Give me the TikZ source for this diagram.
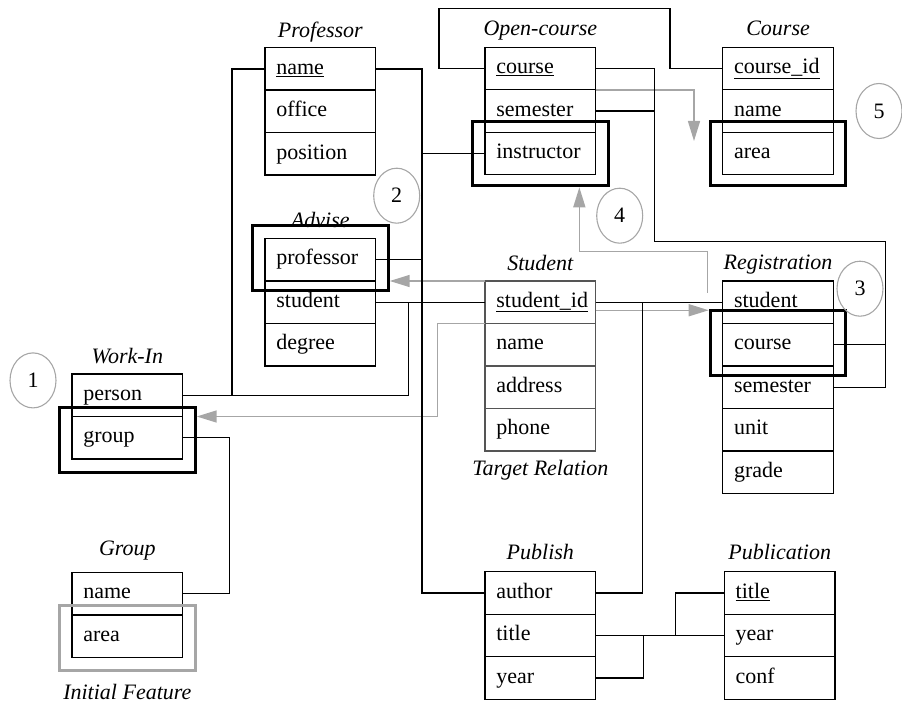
\documentclass[tikz,border=0pt]{standalone}
\usepackage{fontspec}
\setmainfont{Liberation Serif}
\usetikzlibrary{arrows.meta,positioning,shapes.geometric,fit,calc}
\definecolor{hintgray}{HTML}{A6A6A6}
\definecolor{targetgray}{HTML}{555555}

\begin{document}
\begin{tikzpicture}[x=1pt,y=-1pt,
		cell/.style={draw,line width=1.4pt,rectangle,minimum width=110.7pt,minimum height=42.5pt,
				text width=88pt,inner xsep=11pt,inner ysep=0pt,outer sep=0pt,align=left,
				font=\fontsize{22}{26}\selectfont,execute at begin node=\strut},
		target cell/.style={cell,draw=targetgray},
		caption/.style={anchor=base,font=\fontsize{22}{26}\selectfont\itshape,inner sep=0pt},
		hilite/.style={draw,line width=3pt,inner xsep=12.5pt,inner ysep=11pt},
		soft hilite/.style={hilite,draw=hintgray},
		badge/.style={ellipse,draw=hintgray,line width=1.1pt,minimum width=46pt,minimum height=55pt,
				inner sep=0pt,font=\fontsize{22}{26}\selectfont},
		link/.style={draw,line width=1.4pt},
		hint/.style={draw=hintgray,line width=1.5pt,-{Triangle[length=20pt,width=12pt]}},
	]
	\useasboundingbox (0,0) rectangle (902,703);

	% relations
	\node[cell,anchor=north west] (prof-name) at (265,47.7) {\underline{name}};
	\node[cell,below=0pt of prof-name] (prof-office) {office};
	\node[cell,below=0pt of prof-office] (prof-pos) {position};
	\node[caption] (t-prof) at ([yshift=10.5pt]prof-name.north) {Professor};

	\node[cell,anchor=north west] (adv-prof) at (265,238.5) {professor};
	\node[cell,below=0pt of adv-prof] (adv-stud) {student};
	\node[cell,below=0pt of adv-stud] (adv-deg) {degree};
	\node[caption] (t-adv) at ([yshift=11pt]adv-prof.north) {Advise};

	\node[cell,anchor=north west] (wi-person) at (72,374) {person};
	\node[cell,below=0pt of wi-person] (wi-group) {group};
	\node[caption] (t-wi) at ([yshift=10.7pt]wi-person.north) {Work-In};

	\node[cell,anchor=north west] (grp-name) at (72,572.3) {name};
	\node[cell,below=0pt of grp-name] (grp-area) {area};
	\node[caption] (t-grp) at ([yshift=16.6pt]grp-name.north) {Group};
	\node[caption] (t-init) at ([yshift=-41.7pt]grp-area.south) {Initial Feature};

	\node[cell,anchor=north west] (oc-course) at (485,47.3) {\underline{course}};
	\node[cell,below=0pt of oc-course] (oc-sem) {semester};
	\node[cell,below=0pt of oc-sem] (oc-instr) {instructor};
	\node[caption] (t-oc) at ([yshift=11.8pt]oc-course.north) {Open-course};

	\node[cell,anchor=north west] (crs-id) at (722.7,47.3) {\underline{course\_id}};
	\node[cell,below=0pt of crs-id] (crs-name) {name};
	\node[cell,below=0pt of crs-name] (crs-area) {area};
	\node[caption] (t-crs) at ([yshift=11.8pt]crs-id.north) {Course};

	\node[target cell,anchor=north west] (stu-id) at (485,281) {\underline{student\_id}};
	\node[target cell,below=0pt of stu-id] (stu-name) {name};
	\node[target cell,below=0pt of stu-name] (stu-addr) {address};
	\node[target cell,below=0pt of stu-addr] (stu-phone) {phone};
	\node[caption] (t-stu) at ([yshift=10.3pt]stu-id.north) {Student};
	\node[caption] (t-target) at ([yshift=-24pt]stu-phone.south) {Target Relation};

	\node[cell,anchor=north west] (reg-stud) at (722.7,281) {student};
	\node[cell,below=0pt of reg-stud] (reg-course) {course};
	\node[cell,below=0pt of reg-course] (reg-sem) {semester};
	\node[cell,below=0pt of reg-sem] (reg-unit) {unit};
	\node[cell,below=0pt of reg-unit] (reg-grade) {grade};
	\node[caption] (t-reg) at ([yshift=11pt]reg-stud.north) {Registration};

	\node[cell,anchor=north west] (pub-author) at (485,571.7) {author};
	\node[cell,below=0pt of pub-author] (pub-title) {title};
	\node[cell,below=0pt of pub-title] (pub-year) {year};
	\node[caption] (t-pub) at ([yshift=12.7pt]pub-author.north) {Publish};

	\node[cell,anchor=north west] (pcn-title) at (724.3,571.7) {\underline{title}};
	\node[cell,below=0pt of pcn-title] (pcn-year) {year};
	\node[cell,below=0pt of pcn-year] (pcn-conf) {conf};
	\node[caption] (t-pcn) at ([yshift=12.7pt]pcn-title.north) {Publication};

	% marked attributes
	\node[hilite,fit=(adv-prof),yshift=1.5pt] (hl-adv) {};
	\node[hilite,fit=(wi-group),yshift=-2pt] (hl-wi) {};
	\node[hilite,fit=(oc-instr)] (hl-oc) {};
	\node[hilite,fit=(crs-area)] (hl-crs) {};
	\node[hilite,fit=(reg-course),yshift=2pt] (hl-reg) {};
	\node[soft hilite,fit=(grp-area),yshift=-2pt] (hl-grp) {};

	% search steps
	\node[badge] (n1) at (33,380.4) {1};
	\node[badge] (n2) at (396.7,195.7) {2};
	\node[badge] (n3) at (860,288.7) {3};
	\node[badge] (n4) at (619.7,215.7) {4};
	\node[badge] (n5) at (879,111) {5};

	% propagation
	\draw[hint] (stu-id.north west) -- (stu-id.north west -| hl-adv.east);
	\draw[hint] ($(stu-id.east)+(0,8)$) coordinate (stu-out) -- (stu-out -| hl-reg.west);
	\draw[hint] (stu-id.south west) -- ++(-47.7,0) |- (wi-person.south -| hl-wi.east);
	\coordinate (area-tip) at (694,141);
	\draw[hint] (oc-sem.north east) -| (area-tip);
	\coordinate (reg-tail) at ($(reg-stud.west)+(-15.4,-9.5)$);
	\draw[hint] (reg-tail) -- ++(0,-41) -| ([xshift=39pt]hl-oc.south);

	% joins
	\coordinate (prof-bus) at ($(prof-name.east)+(46.3,0)$);
	\draw[link] (prof-name.west) -- ++(-33,0) |- (wi-person.east);
	\draw[link] (prof-name.east) -- (prof-bus) |- (pub-author.west);
	\draw[link] (adv-prof.east) -- (adv-prof.east -| prof-bus);
	\draw[link] (oc-instr.west) -- (oc-instr.west -| prof-bus);
	\draw[link] (adv-stud.east) -- (stu-id.west);
	\draw[link] (adv-stud.east) -- ++(33,0) |- (wi-person.east);
	\draw[link] (wi-group.east) -- ++(47,0) |- (grp-name.east);
	\draw[link] (oc-course.west) -- ++(-46,0) |- (670,8.3) |- (crs-id.west);
	\coordinate (oc-bus) at ($(oc-course.east)+(58.6,0)$);
	\coordinate (reg-bus) at (885.7,241.7);
	\draw[link] (oc-course.east) -- (oc-bus) |- (reg-bus) |- (reg-sem.east);
	\draw[link] (oc-sem.east) -- (oc-sem.east -| oc-bus);
	\draw[link] (reg-course.east) -- (reg-course.east -| reg-bus);
	\draw[link] (stu-id.east) -- (reg-stud.west);
	\draw[link] (stu-id.east) -- ++(47,0) |- (pub-author.east);
	\draw[link] (pub-title.east) -- (pcn-year.west);
	\coordinate (pub-join) at ($(pub-title.east)+(47.6,0)$);
	\draw[link] (pub-year.east) -| (pub-join);
	\coordinate (pcn-join) at ($(pcn-year.west)+(-48.6,0)$);
	\draw[link] (pcn-title.west) -| (pcn-join);
\end{tikzpicture}
\end{document}
